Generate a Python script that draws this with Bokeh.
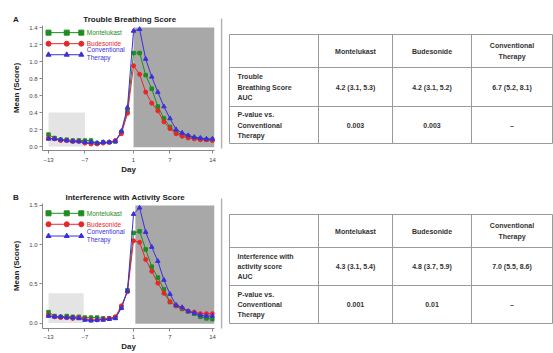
from bokeh.plotting import figure
from bokeh.layouts import row, column
from bokeh.models import Range1d, FixedTicker, PrintfTickFormatter
from bokeh.core.properties import value
from bokeh.embed import file_html
from bokeh.resources import INLINE

FONT = "Liberation Sans"

# ---------------- data ----------------
days = list(range(-13, 15))

# Panel A: Trouble Breathing Score (mean score by day)
tb_montelukast = [0.14, 0.10, 0.08, 0.08, 0.07, 0.07, 0.07, 0.07, 0.04, 0.05, 0.05, 0.06, 0.17, 0.42,
                  1.10, 1.10, 0.84, 0.68, 0.47, 0.33, 0.23, 0.17, 0.14, 0.12, 0.10, 0.09, 0.08, 0.08]
tb_budesonide = [0.10, 0.09, 0.07, 0.07, 0.06, 0.06, 0.04, 0.03, 0.03, 0.04, 0.05, 0.07, 0.15, 0.39,
                 0.95, 0.85, 0.64, 0.51, 0.42, 0.29, 0.21, 0.15, 0.12, 0.10, 0.09, 0.08, 0.08, 0.07]
tb_conventional = [0.09, 0.09, 0.08, 0.07, 0.06, 0.06, 0.05, 0.05, 0.04, 0.05, 0.05, 0.06, 0.18, 0.46,
                   1.36, 1.38, 1.03, 0.82, 0.64, 0.47, 0.33, 0.20, 0.16, 0.13, 0.11, 0.10, 0.09, 0.09]

# Panel B: Interference with Activity Score
ia_montelukast = [0.14, 0.09, 0.08, 0.09, 0.08, 0.08, 0.07, 0.07, 0.07, 0.06, 0.06, 0.07, 0.20, 0.42,
                  1.15, 1.17, 0.94, 0.72, 0.58, 0.43, 0.27, 0.22, 0.18, 0.15, 0.12, 0.08, 0.06, 0.05]
ia_budesonide = [0.10, 0.08, 0.07, 0.07, 0.06, 0.07, 0.05, 0.04, 0.04, 0.05, 0.06, 0.08, 0.22, 0.40,
                 1.05, 1.03, 0.81, 0.66, 0.51, 0.38, 0.27, 0.22, 0.19, 0.15, 0.14, 0.12, 0.12, 0.12]
ia_conventional = [0.09, 0.08, 0.08, 0.07, 0.07, 0.06, 0.04, 0.03, 0.04, 0.04, 0.05, 0.06, 0.19, 0.41,
                   1.39, 1.47, 1.16, 0.97, 0.79, 0.55, 0.37, 0.23, 0.20, 0.15, 0.13, 0.10, 0.09, 0.09]

series_names = ["Montelukast", "Budesonide", "Conventional\nTherapy"]
panel_letters = ["A", "B"]
panel_titles = ["Trouble Breathing Score", "Interference with Activity Score"]
x_ticks = [-13, -7, 1, 7, 14]
tb_y_ticks = [0.0, 0.2, 0.4, 0.6, 0.8, 1.0, 1.2, 1.4]
ia_y_ticks = [0.0, 0.5, 1.0, 1.5]

# shaded periods: (left, right, bottom, top)
tb_baseline = (-13, -7, 0.0, 0.40)
tb_treatment = (1.0, 14.33, -0.01, 1.40)
ia_baseline = (-13, -7.2, 0.0, 0.38)
ia_treatment = (1.3, 14.33, -0.01, 1.50)

# tables
table_cols = ["Montelukast", "Budesonide", "Conventional\nTherapy"]
tb_row_labels = ["Trouble\nBreathing Score\n AUC", "P-value vs.\nConventional\nTherapy"]
tb_auc = ["4.2 (3.1, 5.3)", "4.2 (3.1, 5.2)", "6.7 (5.2, 8.1)"]
tb_p = ["0.003", "0.003", "\u2013"]
ia_row_labels = ["Interference with\nactivity score\nAUC", "P-value vs.\nConventional\nTherapy"]
ia_auc = ["4.3 (3.1, 5.4)", "4.8 (3.7, 5.9)", "7.0 (5.5, 8.6)"]
ia_p = ["0.001", "0.01", "\u2013"]

# ---------------- styles ----------------
COLORS = ["#1e8c1e", "#e8262a", "#3a30dc"]
MARKERS = ["square", "circle", "triangle"]
MSIZE = [3.5, 4, 4.5]
LSIZE = [5, 5, 5]
NBSP = "\u00a0"


def make_chart(title, letter, gap, series, y0, y1, yticks, baseline, treatment, h, top, bottom,
               legend_y, legend_lines_y, lab_standoff, axlab_standoff, title_standoff, valign):
    p = figure(width=220, height=h, x_range=Range1d(-13.99, 14.33), y_range=Range1d(y0, y1),
               output_backend="svg", toolbar_location=None,
               min_border_left=42, min_border_right=6, min_border_top=top, min_border_bottom=bottom)
    p.outline_line_color = None
    p.xgrid.visible = False
    p.ygrid.visible = False
    p.background_fill_color = "white"
    p.border_fill_color = "white"

    p.title.text = letter + NBSP * gap + title
    p.title.align = "left"
    p.title.offset = -29.5
    p.title.text_font = FONT
    p.title.text_font_size = "8px"
    p.title.text_font_style = "bold"
    p.title.text_color = "#222222"
    p.title.standoff = title_standoff
    p.title.vertical_align = valign

    # shaded regions
    l, r, b, t = baseline
    p.quad(left=[l], right=[r], bottom=[b], top=[t], fill_color="#e4e4e4", line_color=None)
    l, r, b, t = treatment
    p.quad(left=[l], right=[r], bottom=[b], top=[t], fill_color="#a8a8a8", line_color=None)

    for vals, c, m, s in zip(series, COLORS, MARKERS, MSIZE):
        p.line(days, vals, line_color=c, line_width=1)
        p.scatter(days, vals, marker=m, size=s, fill_color=c, line_color=c)

    # legend (drawn in-plot)
    lx = [-13, -10.0, -7.6]
    for i, (name, c, m, s) in enumerate(zip(series_names, COLORS, MARKERS, LSIZE)):
        yy = legend_y[i]
        p.line(lx, [yy] * 3, line_color=c, line_width=1)
        p.scatter(lx, [yy] * 3, marker=m, size=s, fill_color=c, line_color=c)
        lines = name.split("\n")
        ys = legend_lines_y if len(lines) > 1 else [yy]
        for txt, ty in zip(lines, ys):
            p.text(x=[-6.7], y=[ty], text=[txt], text_color=c, text_font=value(FONT),
                   text_font_size="6.5px", text_baseline="middle", text_align="left")

    for ax in (p.xaxis[0], p.yaxis[0]):
        ax.axis_line_color = "#888888"
        ax.major_tick_line_color = "#888888"
        ax.major_tick_in = 0
        ax.major_tick_out = 3
        ax.minor_tick_line_color = None
        ax.major_label_text_font = FONT
        ax.major_label_text_font_size = "6px"
        ax.major_label_text_color = "#444444"
        ax.axis_label_text_font = FONT
        ax.axis_label_text_font_size = "8px"
        ax.axis_label_text_font_style = "bold"
        ax.axis_label_text_color = "#222222"
    p.yaxis.major_label_standoff = 2
    p.xaxis.major_label_standoff = lab_standoff
    p.xaxis.ticker = FixedTicker(ticks=x_ticks)
    p.yaxis.ticker = FixedTicker(ticks=yticks)
    p.yaxis.formatter = PrintfTickFormatter(format="%.1f")
    p.xaxis.axis_label = "Day"
    p.yaxis.axis_label = "Mean (Score)"
    p.xaxis.axis_label_standoff = axlab_standoff
    p.yaxis.axis_label_standoff = 5
    return p


pA = make_chart(panel_titles[0], panel_letters[0], 29,
                [tb_montelukast, tb_budesonide, tb_conventional],
                -0.047, 1.424, tb_y_ticks, tb_baseline, tb_treatment,
                176, 25, 26, [1.34, 1.21, 1.08], [1.14, 1.045], 4, 0, 4, "bottom")
pB = make_chart(panel_titles[1], panel_letters[1], 21,
                [ia_montelukast, ia_budesonide, ia_conventional],
                -0.069, 1.525, ia_y_ticks, ia_baseline, ia_treatment,
                177, 27, 23, [1.40, 1.26, 1.11], [1.17, 1.06], 3, 0, 4, "bottom")

# ---------------- tables ----------------
pt = figure(width=333, height=353, x_range=Range1d(220, 553), y_range=Range1d(353, 0),
            output_backend="svg", toolbar_location=None, min_border=0,
            min_border_left=0, min_border_right=0, min_border_top=0, min_border_bottom=0)
pt.axis.visible = False
pt.xgrid.visible = False
pt.ygrid.visible = False
pt.outline_line_color = None
pt.border_fill_color = "white"

col_x = [229, 318, 392, 471, 552]
LINE_H = 10.3


def draw_table(rows_y, row_labels, auc, pv, side_line):
    x0s, x1s, y0s, y1s = [], [], [], []
    for x in col_x:
        x0s.append(x); x1s.append(x); y0s.append(rows_y[0]); y1s.append(rows_y[-1])
    for y in rows_y:
        x0s.append(col_x[0]); x1s.append(col_x[-1]); y0s.append(y); y1s.append(y)
    pt.segment(x0=x0s, y0=y0s, x1=x1s, y1=y1s, line_color="#9a9a9a", line_width=1)
    pt.segment(x0=[221], y0=[side_line[0]], x1=[221], y1=[side_line[1]], line_color="#b0b0b0", line_width=1.5)

    tx, ty, tt, ta = [], [], [], []

    def add(text, xc, yc, align):
        lines = text.split("\n")
        n = len(lines)
        for i, ln in enumerate(lines):
            tx.append(xc); ty.append(yc + (i - (n - 1) / 2) * LINE_H); tt.append(ln); ta.append(align)

    centers_x = [(col_x[i] + col_x[i + 1]) / 2 for i in range(1, 4)]
    cy = [(rows_y[i] + rows_y[i + 1]) / 2 for i in range(3)]
    for j, h in enumerate(table_cols):
        add(h, centers_x[j], cy[0], "center")
    for i, lab in enumerate(row_labels):
        add(lab, col_x[0] + 8, cy[i + 1], "left")
    for j in range(3):
        add(auc[j], centers_x[j], cy[1], "center")
        add(pv[j], centers_x[j], cy[2], "center")
    for align in ("left", "center"):
        idx = [k for k in range(len(tt)) if ta[k] == align]
        pt.text(x=[tx[k] for k in idx], y=[ty[k] for k in idx], text=[tt[k] for k in idx],
                text_align=align, text_baseline="middle", text_font=value(FONT),
                text_font_size="7px", text_font_style="bold", text_color="#333333")


draw_table([34, 67, 106, 143], tb_row_labels, tb_auc, tb_p, (18, 148))
draw_table([214, 247, 285, 323], ia_row_labels, ia_auc, ia_p, (198, 328))

layout = row(column(pA, pB, spacing=0), pt, spacing=0)
open("out.html", "w").write(file_html(layout, INLINE))
